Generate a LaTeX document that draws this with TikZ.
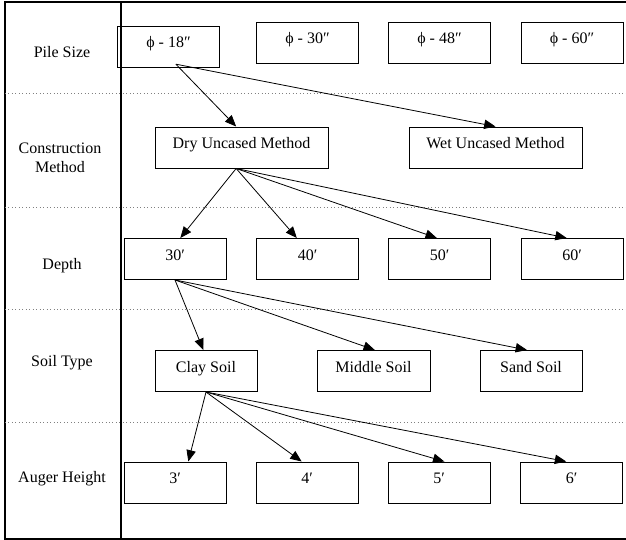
\documentclass[tikz,border=0pt]{standalone}
\usepackage{fontspec}
\setmainfont{Liberation Serif}
\usetikzlibrary{arrows.meta}

\begin{document}
\begin{tikzpicture}[x=0.75pt, y=-0.75pt, >={Triangle[length=8.5pt, width=7pt]},
    font=\fontsize{12}{14}\selectfont,
    box/.style={draw, line width=0.75pt, minimum width=76.5pt, minimum height=30.75pt,
                inner sep=0pt, text height=8pt, text depth=6pt},
    rowname/.style={align=center, inner sep=0pt},
    rowline/.style={gray, dotted, line width=0.6pt},
    frame/.style={line width=0.8pt},
    arr/.style={->, line width=0.6pt}]
      \useasboundingbox (0, 0) rectangle (626, 540);

      % table frame and row separators
      \draw[frame] (626, 2) -- (5, 2) -- (5, 539) -- (626, 539);
      \draw[frame] (121, 2) -- (121, 539);
      \foreach \y in {93, 207, 309, 422}
        \draw[rowline] (5, \y) -- (626, \y);

      % row names
      \node[rowname] (lpile) at (62, 52) {Pile Size};
      \node[rowname] (lmethod) at (60, 158) {Construction\\Method};
      \node[rowname] (ldepth) at (62, 266) {Depth};
      \node[rowname] (lsoil) at (62, 363) {Soil Type};
      \node[rowname] (lauger) at (62, 479) {Auger Height};

      % pile size
      \node[box] (p18) at (168.5, 46.5) {ϕ - 18″};
      \node[box] (p30) at (307.5, 42.5) {ϕ - 30″};
      \node[box] (p48) at (439.5, 42.5) {ϕ - 48″};
      \node[box] (p60) at (572, 42.5) {ϕ - 60″};

      % construction method
      \node[box, minimum width=129.75pt] (dry) at (241.5, 147.5) {Dry Uncased Method};
      \node[box, minimum width=129.75pt] (wet) at (495.5, 147.5) {Wet Uncased Method};

      % depth
      \node[box] (d30) at (175, 259) {30′};
      \node[box] (d40) at (307.5, 259) {40′};
      \node[box] (d50) at (439.5, 259) {50′};
      \node[box] (d60) at (572, 259) {60′};

      % soil type
      \node[box] (clay) at (206, 371) {Clay Soil};
      \node[box, minimum width=84.75pt] (middle) at (373.5, 371) {Middle Soil};
      \node[box] (sand) at (531, 371) {Sand Soil};

      % auger height
      \node[box] (h3) at (175, 482.5) {3′};
      \node[box] (h4) at (307, 482.5) {4′};
      \node[box] (h5) at (439, 482.5) {5′};
      \node[box] (h6) at (571.5, 482.5) {6′};

      % branches
      \foreach \t/\dx in {dry/-4, wet/0}
        \draw[arr] ([xshift=5.5pt, yshift=2.5pt]p18.south) -- ([xshift=\dx pt]\t.north);
      \foreach \t/\dx in {d30/4, d40/-8, d50/-2, d60/-4}
        \draw[arr] ([xshift=-4pt]dry.south) -- ([xshift=\dx pt]\t.north);
      \foreach \t/\dx in {clay/-2, middle/1, sand/-3}
        \draw[arr] (d30.south) -- ([xshift=\dx pt]\t.north);
      \foreach \t/\dx in {h3/10, h4/-4, h5/4, h6/-4}
        \draw[arr] (clay.south) -- ([xshift=\dx pt]\t.north);
    \end{tikzpicture}
\end{document}
